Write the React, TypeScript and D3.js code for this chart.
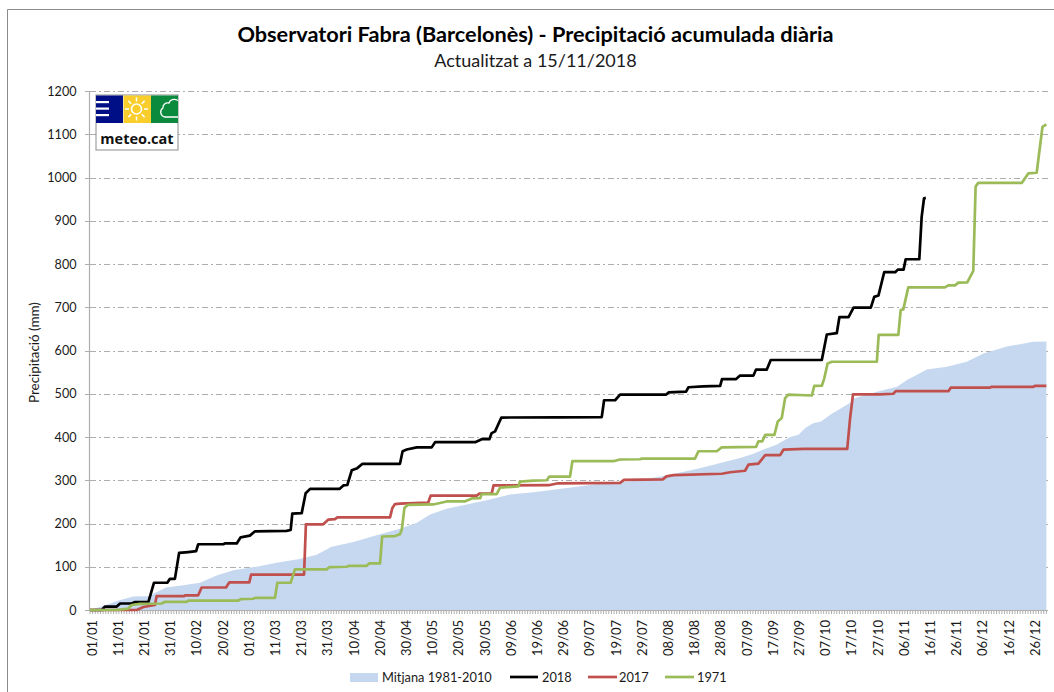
import React from "react";
import * as d3 from "d3";

const title = "Observatori Fabra (Barcelonès) - Precipitació acumulada diària";
const subtitle = "Actualitzat a 15/11/2018";
const yAxisTitle = "Precipitació (mm)";
const yTicks = [0, 100, 200, 300, 400, 500, 600, 700, 800, 900, 1000, 1100, 1200];
const xTickLabels = ["01/01","11/01","21/01","31/01","10/02","20/02","01/03","11/03","21/03","31/03","10/04","20/04","30/04","10/05","20/05","30/05","09/06","19/06","29/06","09/07","19/07","29/07","08/08","18/08","28/08","07/09","17/09","27/09","07/10","17/10","27/10","06/11","16/11","26/11","06/12","16/12","26/12"];

const days2018 = [0,4.5,5.7,10.2,11.5,15.9,17,22.3,24.4,29.5,30.5,32.4,34,37.5,40.5,41.3,50.9,51.5,56,57.5,61,63,75,76.6,77.2,80.8,82.3,84,95.2,96.7,98.2,99.9,102,104,118.3,119.3,120.9,124.7,130.4,131.7,147,149.5,152.4,153.3,154.6,157,178,195.3,196.2,200.4,202.3,219.9,220.8,227.5,228.4,234,240.5,241.2,246.6,248.1,253.2,254.2,258.3,259.8,279.3,281.2,285,286,289.5,291.4,298,299.3,300.9,303.1,307.3,308.3,310.5,311.3,316.5,317.4,318.3,319];
const vals2018 = [0,0,8,8,15,15,18,19,63,63,72,72,132,134,136,152,152,154,154,168,172,182,183,185,223,224,270,280,280,288,289,323,328,338,338,367,371,376,376,388,388,395,395,409,413,445,445.5,446,485,485,498,498,503,505,515,517,518,534,534,542,542,556,556,578,578,637,640,677,677,699,699,724,727,781,781,787,787,811,811,909,952,953];

const days2017 = [0,17.8,20.4,24.8,25.4,35.9,36.3,41.3,42.6,51.9,53.2,60.8,61.5,81.7,82.4,89,91,93.5,94.4,114.5,115.4,116.4,118.3,129.1,130,147.6,148.6,153.3,154,175,178.7,202.3,203.8,218.6,220,222.7,241.1,244.3,250,251.3,255.1,257.7,263.4,264.7,272.3,289,290.1,291.2,301.5,306.6,307.5,327.6,328.5,343.5,344,360,360.6,365];
const vals2017 = [0,0,7,11.5,32,32,34,34,52,52,64,64,82,82,198,198,209,210,214,214,236,245,246,248.5,264.6,264.6,269,269,288,288.5,293,294,301,302,309,312,315,318.5,322,336,338.5,358,358,371,372.5,372.5,444,498.5,498.5,500,506,506,514,514,516,516,518,518];

const days1971 = [0,10.2,14.6,15.9,19,27.4,28.6,36.9,37.5,56.6,57.5,62.3,63,70.6,71.5,76.6,78.2,90.3,91.3,98,98.6,105.6,106.6,110.7,111.5,116.4,118.3,119,120,121.2,131,136.1,143,145.7,148.9,149.5,155.2,156.5,163.5,164.1,169.3,174.3,175.3,183.2,184.1,199.7,202.3,209.9,210.6,230.9,232.2,239.2,241.1,254.2,255.1,256.6,257.7,261.2,262.5,264,265.3,266.5,275.5,276.4,279.3,280.2,281.5,283.1,300.3,301,308.5,309.4,310.4,312.3,326.3,327.6,330.1,331.4,334.8,337.1,338,339,355.6,358.1,361.3,363.5,365];
const vals1971 = [0,0,3,11.5,14,15,19,19,21.5,21.5,25,26,28,28,63,63,94,94,99,100,102,102,108,108,170,171,175,186,236,243,244,251,251,258,258.5,268,268,283,286,297,299,300,308.5,308.5,344,344,348,348.5,350,350,367,367,376,377,390,390,405,405,436,444,490,498,496,518,518.5,535,570,574,574,636,636,693.5,695,746,746,750.5,750.5,757,757.5,784,979,987.5,987.5,1009.5,1011,1117,1123];

const daysMean = [0,5,11.5,16.5,22.3,29,35.6,42,48.3,54.7,63.6,71.2,80,86.5,92.2,100.5,110.7,118.3,124.7,129.8,136.1,143.7,151.4,160.3,169.3,182,194.7,207.4,220,232.7,248.1,253.2,257,262,267.2,270.4,273,276,279,282.5,290,291.4,300.3,308,311.8,319.4,327,334.6,341,349.9,360,365];
const valsMean = [0,9,23,31,32,52,57,63,80,92,100,109,118,128,146,157,175,188,201.5,221,234,244,254,267,272,282,292,298,311,328,351.5,361.5,371,382,400,405,421,432,436,451.5,478.5,489,504.6,516,532,556,562.5,574,593,609,620,621];

const legendLabels = ["Mitjana 1981-2010", "2018", "2017", "1971"];
const colors = { mean: "#c6d8f0", s2018: "#000000", s2017: "#c0504d", s1971: "#9bbb59", axis: "#aeaeae", grid: "#adadad", frame: "#8c8c8c", text: "#1a1a1a" };
const FONT = "Lato, 'Open Sans', sans-serif";

const x = d3.scaleLinear().domain([0, 366]).range([90, 1049]);
const y = d3.scaleLinear().domain([0, 1200]).range([610, 91]);
const toPts = (ds: number[], vs: number[]) => ds.map((d, i) => [d, vs[i]] as [number, number]);
const line = d3.line<[number, number]>().x(d => x(d[0])).y(d => y(d[1]));
const area = d3.area<[number, number]>().x(d => x(d[0])).y0(y(0)).y1(d => y(d[1]));
const dayTicks = d3.range(0, 366);

function Logo() {
  const sunRays = d3.range(0, 8).map(i => (i * Math.PI) / 4);
  return (
    <g>
      <rect x={96} y={95} width={82} height={55} fill="#fff" stroke="#8c8c8c" strokeWidth={1} />
      <rect x={96} y={95.5} width={27} height={27.5} fill="#000f85" />
      <rect x={123.5} y={95.5} width={27.5} height={27.5} fill="#f8cd2c" />
      <rect x={151} y={95.5} width={27} height={27.5} fill="#0b8a3e" />
      {[102, 108.5, 115].map(v => <rect key={v} x={96} y={v - 1} width={13} height={2.2} fill="#fff" />)}
      <circle cx={136.5} cy={109} r={5} fill="none" stroke="#fff" strokeWidth={1.6} />
      {sunRays.map((a, i) => (
        <line key={i} x1={136.5 + 7.5 * Math.cos(a)} y1={109 + 7.5 * Math.sin(a)} x2={136.5 + 11.5 * Math.cos(a)} y2={109 + 11.5 * Math.sin(a)} stroke="#fff" strokeWidth={1.5} />
      ))}
      <path d="M178 100.5 C174 98.5 170 99.5 169 103 C165 102.5 162.5 105 163 108 C159.5 110 160 116 165 117 L178 117" fill="none" stroke="#fff" strokeWidth={1.3} />
      <text x={137} y={143.5} textAnchor="middle" fontFamily="'Open Sans', sans-serif" fontWeight={700} fontSize={14.5} fill="#111">meteo.cat</text>
    </g>
  );
}

export default function App() {
  return (
    <svg width={1054} height={692} style={{ position: "absolute", left: 0, top: 0, background: "#fff" }}>
      <path d="M7.5 692 V9.5 H1054" fill="none" stroke={colors.frame} strokeWidth={1} />
      <text x={535.5} y={41.5} textAnchor="middle" fontFamily={FONT} fontWeight={700} fontSize={21.7} fill="#000">{title}</text>
      <text x={535.5} y={67} textAnchor="middle" fontFamily={FONT} fontSize={18} fill={colors.text}>{subtitle}</text>

      {yTicks.slice(1).map(t => (
        <line key={t} x1={90} x2={1049} y1={Math.round(y(t)) + 0.5} y2={Math.round(y(t)) + 0.5} stroke={colors.grid} strokeWidth={1} strokeDasharray="6 3 2 3" />
      ))}
      <path d={area(toPts(daysMean, valsMean)) ?? ""} fill={colors.mean} />
      {yTicks.map(t => (
        <g key={t}>
          <line x1={85} x2={90} y1={Math.round(y(t)) + 0.5} y2={Math.round(y(t)) + 0.5} stroke={colors.axis} />
          <text x={76.5} y={y(t) + 4.5} textAnchor="end" fontFamily={FONT} fontSize={12.6} fill={colors.text}>{t}</text>
        </g>
      ))}
      <line x1={89.5} x2={89.5} y1={91} y2={611} stroke={colors.axis} strokeWidth={1.2} />
      <line x1={89} x2={1048} y1={610.5} y2={610.5} stroke={colors.axis} />
      {dayTicks.map(d => (
        <line key={d} x1={x(d)} x2={x(d)} y1={610} y2={614} stroke={colors.axis} strokeWidth={1} />
      ))}
      {xTickLabels.map((l, i) => (
        <text key={l} transform={`translate(${x(i * 10) + 6.5},620) rotate(-90)`} textAnchor="end" fontFamily={FONT} fontSize={13} fill={colors.text}>{l}</text>
      ))}
      <text transform="translate(39,352.5) rotate(-90)" textAnchor="middle" fontFamily={FONT} fontSize={13.4} fill={colors.text}>{yAxisTitle}</text>

      <path d={line(toPts(days2018, vals2018)) ?? ""} fill="none" stroke={colors.s2018} strokeWidth={2.7} strokeLinejoin="round" />
      <path d={line(toPts(days2017, vals2017)) ?? ""} fill="none" stroke={colors.s2017} strokeWidth={2.7} strokeLinejoin="round" />
      <path d={line(toPts(days1971, vals1971)) ?? ""} fill="none" stroke={colors.s1971} strokeWidth={2.7} strokeLinejoin="round" />

      <Logo />

      <rect x={350} y={673} width={28} height={9} fill={colors.mean} />
      <text x={382} y={682} fontFamily={FONT} fontSize={12.8} fill={colors.text}>{legendLabels[0]}</text>
      <line x1={510} x2={538} y1={677} y2={677} stroke={colors.s2018} strokeWidth={2.7} />
      <text x={542} y={682} fontFamily={FONT} fontSize={12.8} fill={colors.text}>{legendLabels[1]}</text>
      <line x1={588} x2={617} y1={677} y2={677} stroke={colors.s2017} strokeWidth={2.7} />
      <text x={619} y={682} fontFamily={FONT} fontSize={12.8} fill={colors.text}>{legendLabels[2]}</text>
      <line x1={665} x2={694} y1={677} y2={677} stroke={colors.s1971} strokeWidth={2.7} />
      <text x={697} y={682} fontFamily={FONT} fontSize={12.8} fill={colors.text}>{legendLabels[3]}</text>
    </svg>
  );
}
